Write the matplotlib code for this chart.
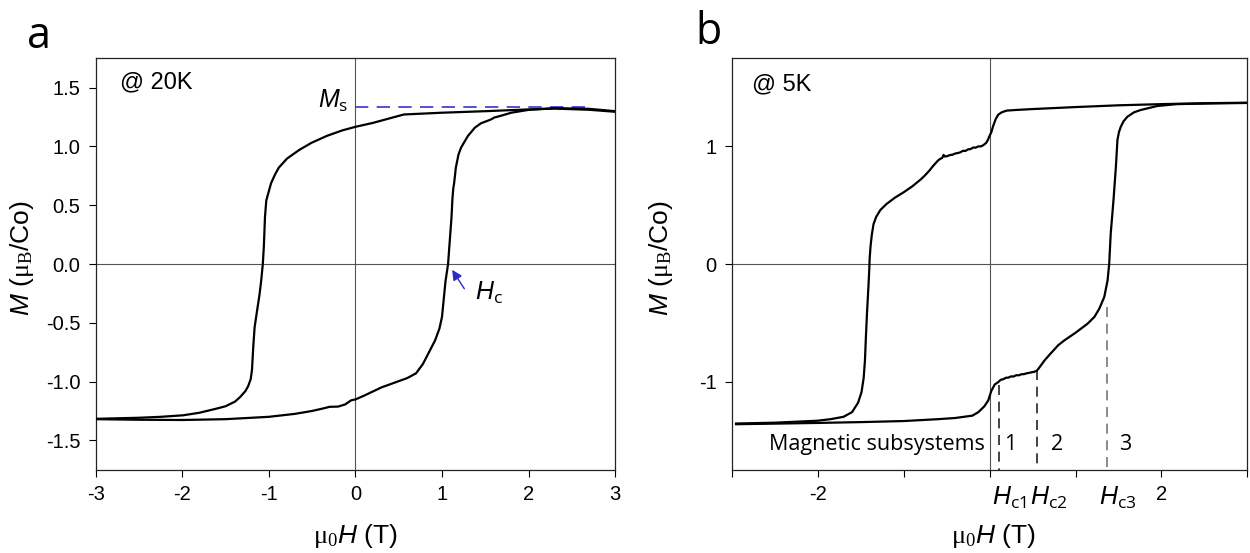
import matplotlib
matplotlib.use('Agg')
from matplotlib import pyplot as plt

plt.rcParams['font.family'] = ['Liberation Sans', 'DejaVu Sans']
plt.rcParams['axes.unicode_minus'] = False
plt.rcParams['mathtext.fontset'] = 'custom'
plt.rcParams['mathtext.rm'] = 'Liberation Serif'
plt.rcParams['mathtext.it'] = 'Liberation Sans:italic'
plt.rcParams['mathtext.sf'] = 'Open Sans'

# 20 K loop, field sweeping down from +3 T
h_down_20k = [3.0, 2.7, 2.3, 2.0, 1.5, 1.0, 0.56, 0.4, 0.2, 0.0, -0.15, -0.33, -0.51,
              -0.65, -0.79, -0.885, -0.93, -0.975, -1.0, -1.03, -1.045, -1.058, -1.07,
              -1.09, -1.11, -1.135, -1.165, -1.18, -1.195, -1.21, -1.24, -1.27, -1.33,
              -1.39, -1.5, -1.62, -1.8, -1.99, -2.25, -2.5, -3.0]
m_down_20k = [1.295, 1.312, 1.322, 1.315, 1.300, 1.287, 1.272, 1.240, 1.200, 1.167, 1.137,
              1.09, 1.03, 0.97, 0.897, 0.82, 0.76, 0.687, 0.62, 0.54, 0.40, 0.15, 0.0,
              -0.15, -0.27, -0.39, -0.54, -0.70, -0.90, -0.98, -1.04, -1.08, -1.13,
              -1.17, -1.21, -1.233, -1.265, -1.287, -1.30, -1.308, -1.317]

# 20 K loop, field sweeping up from -3 T
h_up_20k = [-3.0, -2.5, -2.0, -1.5, -1.0, -0.7, -0.5, -0.35, -0.3, -0.2, -0.12, -0.05,
            0.0, 0.1, 0.3, 0.45, 0.6, 0.7, 0.78, 0.85, 0.92, 0.97, 1.0, 1.02, 1.04, 1.07,
            1.09, 1.11, 1.12, 1.13, 1.14, 1.16, 1.19, 1.22, 1.3, 1.38, 1.45, 1.55, 1.58,
            1.6, 1.7, 1.8, 2.0, 2.3, 2.7, 3.0]
m_up_20k = [-1.32, -1.325, -1.327, -1.32, -1.30, -1.275, -1.25, -1.225, -1.215, -1.213,
            -1.195, -1.16, -1.152, -1.12, -1.05, -1.01, -0.97, -0.93, -0.85, -0.75, -0.65,
            -0.55, -0.45, -0.30, -0.15, 0.0, 0.2, 0.40, 0.55, 0.64, 0.687, 0.82, 0.93,
            0.99, 1.09, 1.16, 1.197, 1.225, 1.235, 1.245, 1.265, 1.287, 1.311, 1.326,
            1.32, 1.30]

ms_20k = 1.332
hc_20k = 1.07

# 5 K loop, field sweeping down from +3 T
h_down_5k = [3.0, 2.5, 2.0, 1.5, 1.0, 0.5, 0.3, 0.2, 0.14, 0.1, 0.07, 0.04, 0.02, 0.0,
             -0.02, -0.04, -0.07, -0.10, -0.13, -0.16, -0.19, -0.22, -0.25, -0.28, -0.31,
             -0.34, -0.37, -0.40, -0.43, -0.46, -0.49, -0.52, -0.535, -0.55, -0.575, -0.60,
             -0.65, -0.7, -0.75, -0.8, -0.9, -1.0, -1.1, -1.2, -1.27, -1.32, -1.35, -1.37,
             -1.385, -1.395, -1.40, -1.41, -1.425, -1.44, -1.45, -1.465, -1.49, -1.53,
             -1.6, -1.7, -1.85, -2.0, -2.5, -2.95]
m_down_5k = [1.372, 1.368, 1.36, 1.35, 1.335, 1.318, 1.31, 1.305, 1.29, 1.27, 1.23, 1.17,
             1.12, 1.09, 1.055, 1.03, 1.012, 1.000, 1.001, 0.990, 0.991, 0.978, 0.975,
             0.962, 0.963, 0.950, 0.944, 0.940, 0.930, 0.927, 0.918, 0.914, 0.928, 0.903,
             0.894, 0.880, 0.84, 0.795, 0.755, 0.72, 0.66, 0.61, 0.565, 0.51, 0.46, 0.40,
             0.34, 0.25, 0.15, 0.05, -0.05, -0.2, -0.4, -0.64, -0.82, -0.97, -1.09, -1.18,
             -1.26, -1.30, -1.32, -1.333, -1.35, -1.357]

# 5 K loop, field sweeping up from -3 T
h_up_5k = [-2.95, -2.5, -2.0, -1.5, -1.0, -0.6, -0.4, -0.2, -0.13, -0.06, -0.015, 0.02,
           0.06, 0.10, 0.13, 0.16, 0.19, 0.22, 0.25, 0.28, 0.31, 0.34, 0.37, 0.40, 0.43,
           0.46, 0.49, 0.52, 0.55, 0.57, 0.64, 0.7, 0.8, 0.87, 1.0, 1.14, 1.22, 1.277,
           1.335, 1.373, 1.392, 1.41, 1.442, 1.47, 1.488, 1.505, 1.527, 1.56, 1.604, 1.68,
           1.758, 1.95, 2.18, 2.6, 3.0]
m_up_5k = [-1.363, -1.358, -1.352, -1.345, -1.336, -1.32, -1.31, -1.29, -1.26, -1.21,
           -1.16, -1.08, -1.025, -1.005, -0.985, -0.980, -0.968, -0.966, -0.956, -0.957,
           -0.946, -0.947, -0.938, -0.937, -0.930, -0.926, -0.921, -0.917, -0.907, -0.89,
           -0.82, -0.77, -0.69, -0.65, -0.585, -0.508, -0.45, -0.38, -0.28, -0.14, 0.0,
           0.26, 0.543, 0.827, 1.055, 1.12, 1.168, 1.215, 1.253, 1.29, 1.31, 1.344, 1.36,
           1.366, 1.37]

# critical fields of the three subsystems and where the guide lines start
hc_fields = [0.113, 0.555, 1.362]
hc_tops = [-1.03, -0.905, -0.367]
hc_names = ['c1', 'c2', 'c3']
hc_colors = ['#222222', '#222222', '#777777']
subsystem_names = ['1', '2', '3']
subsystem_x = [0.235, 0.79, 1.58]


def style_axes(ax):
    ax.set_xlim(-3, 3)
    ax.set_ylim(-1.75, 1.75)
    ax.axhline(0, color='#555555', lw=0.8, zorder=1)
    ax.axvline(0, color='#555555', lw=0.8, zorder=1)
    ax.tick_params(direction='out', length=5, width=0.8, labelsize=14.5, pad=6,
                   top=False, right=False)
    for s in ax.spines.values():
        s.set_linewidth(0.9)
        s.set_color('#222222')
    ax.set_xlabel(r'$\mathrm{\mu_0}\mathit{H}$ (T)', fontsize=19)
    ax.set_ylabel(r'$\mathit{M}$ ($\mathrm{\mu_B}$/Co)', fontsize=19)


fig = plt.figure(figsize=(12.5, 5.53), dpi=100)
ax1 = fig.add_axes([0.0766, 0.1506, 0.4155, 0.744])
ax2 = fig.add_axes([0.5854, 0.1506, 0.4125, 0.744])

# a: 20 K
style_axes(ax1)
ax1.plot(h_down_20k, m_down_20k, color='black', lw=1.6, zorder=3)
ax1.plot(h_up_20k, m_up_20k, color='black', lw=1.6, zorder=3)
ax1.plot([0, 2.75], [ms_20k, ms_20k], color='#3535cc', lw=1.2, dashes=(8, 5), zorder=2)
ax1.text(-0.43, ms_20k, r'$\mathit{M}_\mathsf{s}$', fontsize=18, va='baseline')
ax1.annotate('', xy=(hc_20k + 0.03, -0.03), xytext=(1.275, -0.23),
             arrowprops=dict(arrowstyle='-|>', color='#2b2bd0', lw=1.0, mutation_scale=15))
ax1.text(1.38, -0.305, r'$\mathit{H}_\mathsf{c}$', fontsize=18, va='baseline')
ax1.text(0.047, 0.942, '@ 20K', transform=ax1.transAxes, fontsize=17, va='center')
ax1.set_xticks([-3, -2, -1, 0, 1, 2, 3])
ax1.set_xticklabels(['-3', '-2', '-1', '0', '1', '2', '3'])
ax1.set_yticks([-1.5, -1.0, -0.5, 0.0, 0.5, 1.0, 1.5])
ax1.set_yticklabels(['%.1f' % v for v in [-1.5, -1.0, -0.5, 0.0, 0.5, 1.0, 1.5]])
ax1.yaxis.set_label_coords(-0.115, 0.514)
ax1.xaxis.set_label_coords(0.5, -0.128)

# b: 5 K
style_axes(ax2)
ax2.plot(h_down_5k, m_down_5k, color='black', lw=1.6, zorder=3)
ax2.plot(h_up_5k, m_up_5k, color='black', lw=1.6, zorder=3)
for hc, top, name, col in zip(hc_fields, hc_tops, hc_names, hc_colors):
    ax2.plot([hc, hc], [top, -1.75], color=col, lw=1.2, dashes=(6, 4), zorder=2)
    ax2.text(hc - 0.09, -0.086, r'$\mathit{H}_\mathsf{%s}$' % name, fontsize=18,
             ha='left', va='baseline', transform=ax2.get_xaxis_transform())
ax2.text(-0.06, -1.537, 'Magnetic subsystems', fontfamily='Open Sans', fontsize=15.5,
         ha='right', va='center')
for x, name in zip(subsystem_x, subsystem_names):
    ax2.text(x, -1.537, name, fontfamily='Open Sans', fontsize=15.5, ha='center', va='center')
ax2.text(0.039, 0.937, '@ 5K', transform=ax2.transAxes, fontsize=17, va='center')
ax2.set_xticks([-3, -2, -1, 0, 1, 2, 3])
ax2.set_xticklabels(['', '-2', '', '', '', '2', ''])
ax2.set_yticks([-1, 0, 1])
ax2.set_yticklabels(['-1', '0', '1'])
ax2.yaxis.set_label_coords(-0.11, 0.514)
ax2.xaxis.set_label_coords(0.508, -0.128)

fig.text(0.031, 0.913, 'a', fontfamily='Open Sans', fontsize=31, ha='center', va='baseline')
fig.text(0.567, 0.92, 'b', fontfamily='Open Sans', fontsize=31, ha='center', va='baseline')

fig.savefig('out.png', dpi=100)
